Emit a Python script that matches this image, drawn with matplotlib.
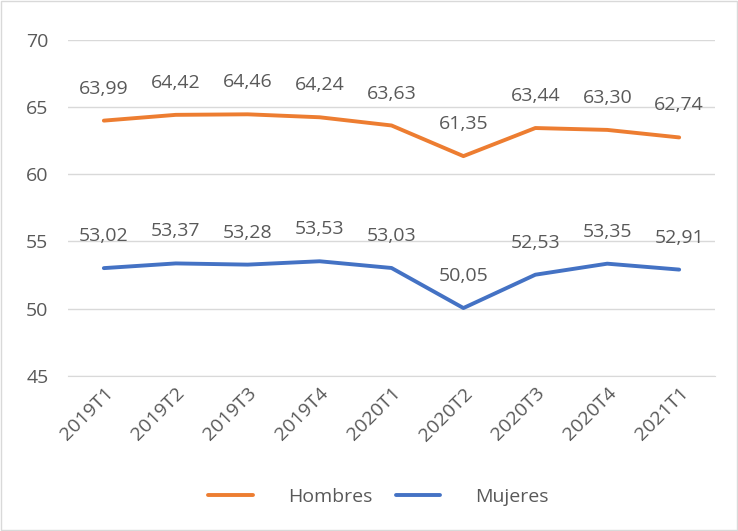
import matplotlib.pyplot as plt
from matplotlib.patches import Rectangle

periodos = ["2019T1", "2019T2", "2019T3", "2019T4", "2020T1", "2020T2", "2020T3", "2020T4", "2021T1"]
hombres = [63.99, 64.42, 64.46, 64.24, 63.63, 61.35, 63.44, 63.30, 62.74]
mujeres = [53.02, 53.37, 53.28, 53.53, 53.03, 50.05, 52.53, 53.35, 52.91]

gris = "#595959"
plt.rcParams["font.family"] = ["Open Sans", "DejaVu Sans"]
fs = 14

fig = plt.figure(figsize=(7.38, 5.31), dpi=100)
ax = fig.add_axes([0.092, 0.292, 0.877, 0.633])

x = list(range(len(periodos)))
ax.plot(x, hombres, color="#ED7D31", lw=2.8, label="Hombres", solid_capstyle="round")
ax.plot(x, mujeres, color="#4472C4", lw=2.8, label="Mujeres", solid_capstyle="round")

for serie in (hombres, mujeres):
    for i, v in enumerate(serie):
        ax.annotate(f"{v:.2f}".replace(".", ","), (i, v), xytext=(0, 23),
                    textcoords="offset points", ha="center", va="center",
                    fontsize=fs, color=gris)

ax.set_xlim(-0.5, len(periodos) - 0.5)
ax.set_ylim(45, 70)
ax.set_yticks(range(45, 71, 5))
ax.set_xticks(x)
ax.set_xticklabels(periodos, rotation=45, ha="right", rotation_mode="anchor")
ax.tick_params(axis="both", length=0, labelsize=fs, labelcolor=gris)
ax.tick_params(axis="x", pad=6)
ax.tick_params(axis="y", pad=14)
ax.grid(axis="y", color="#d9d9d9", lw=1)
ax.set_axisbelow(True)
for s in ("top", "right", "left"):
    ax.spines[s].set_visible(False)
ax.spines["bottom"].set_color("#d9d9d9")

fig.legend(loc="center", bbox_to_anchor=(0.513, 0.064), ncol=2, frameon=False,
           fontsize=fs, labelcolor=gris, handlelength=2.3, columnspacing=1.2,
           handletextpad=1.8)

fig.patches.append(Rectangle((0.001, 0.001), 0.998, 0.998, transform=fig.transFigure,
                             fill=False, edgecolor="#d9d9d9", lw=1))

fig.savefig("out.png", dpi=100)
